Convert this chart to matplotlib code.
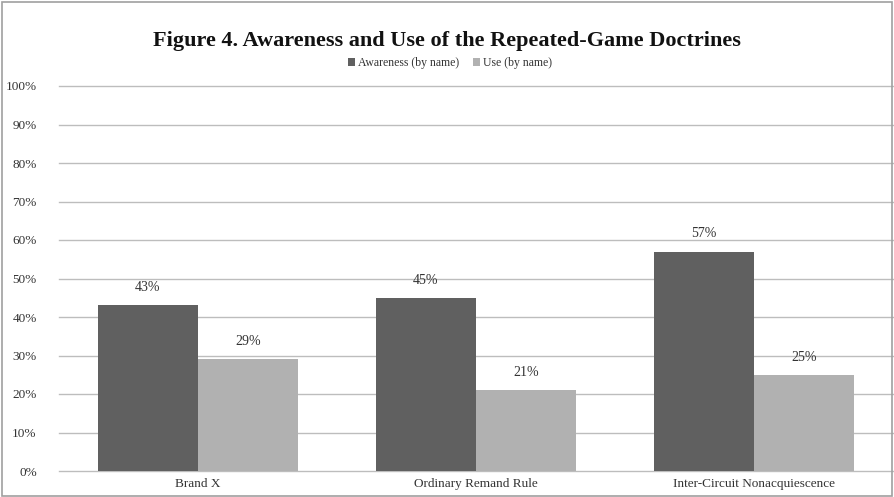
import matplotlib.pyplot as plt
from matplotlib.patches import Rectangle
from matplotlib.ticker import PercentFormatter
import numpy as np

categories = ["Brand X", "Ordinary Remand Rule", "Inter-Circuit Nonacquiescence"]
awareness = [43, 45, 57]
use = [29, 21, 25]
series_names = ["Awareness (by name)", "Use (by name)"]
yticks = [0, 10, 20, 30, 40, 50, 60, 70, 80, 90, 100]

plt.rcParams['font.family'] = ['Liberation Serif', 'DejaVu Serif']

fig = plt.figure(figsize=(8.94, 4.97), dpi=100)
ax = fig.add_axes([59 / 894, 26 / 497, 834 / 894, 385 / 497])

x = np.arange(len(categories))
w = 0.36
dark = "#606060"
light = "#b1b1b1"
b1 = ax.bar(x - w / 2, awareness, w, color=dark, label=series_names[0], zorder=3)
b2 = ax.bar(x + w / 2, use, w, color=light, label=series_names[1], zorder=3)

for bars, vals in ((b1, awareness), (b2, use)):
    for rect, v in zip(bars, vals):
        ax.annotate("%d%%" % v, (rect.get_x() + rect.get_width() / 2, v),
                    xytext=(0, 8), textcoords="offset points",
                    ha="center", va="bottom", fontsize=10, color="#333333", zorder=4)

ax.set_xlim(-0.5, 2.5)
ax.set_ylim(0, 100)
ax.set_yticks(yticks)
ax.yaxis.set_major_formatter(PercentFormatter(decimals=0))
ax.set_xticks(x)
ax.set_xticklabels(categories)
ax.grid(axis="y", color="#bdbdbd", linewidth=1, zorder=0)
for gl in ax.get_ygridlines():
    gl.set_clip_on(False)
for s in ax.spines.values():
    s.set_visible(False)
ax.tick_params(axis="both", length=0, labelsize=9.5, colors="#333333")
ax.tick_params(axis="y", pad=16)
ax.tick_params(axis="x", pad=5)

fig.text(0.5, 1 - 41 / 497, "Figure 4. Awareness and Use of the Repeated-Game Doctrines",
         ha="center", va="center", fontsize=16, fontweight="bold", color="#111111")

fig.legend(handles=[b1, b2], labels=series_names, loc="center",
           bbox_to_anchor=(450 / 894, 1 - 63 / 497), ncol=2, frameon=False,
           fontsize=8.5, handlelength=0.6, handleheight=0.6, handletextpad=0.2,
           columnspacing=1.2, labelcolor="#333333")

fig.patches.append(Rectangle((2 / 894, 1 / 497), 890 / 894, 494 / 497,
                             transform=fig.transFigure, fill=False,
                             edgecolor="#a0a0a0", linewidth=1.2))

fig.savefig("out.png", dpi=100)
